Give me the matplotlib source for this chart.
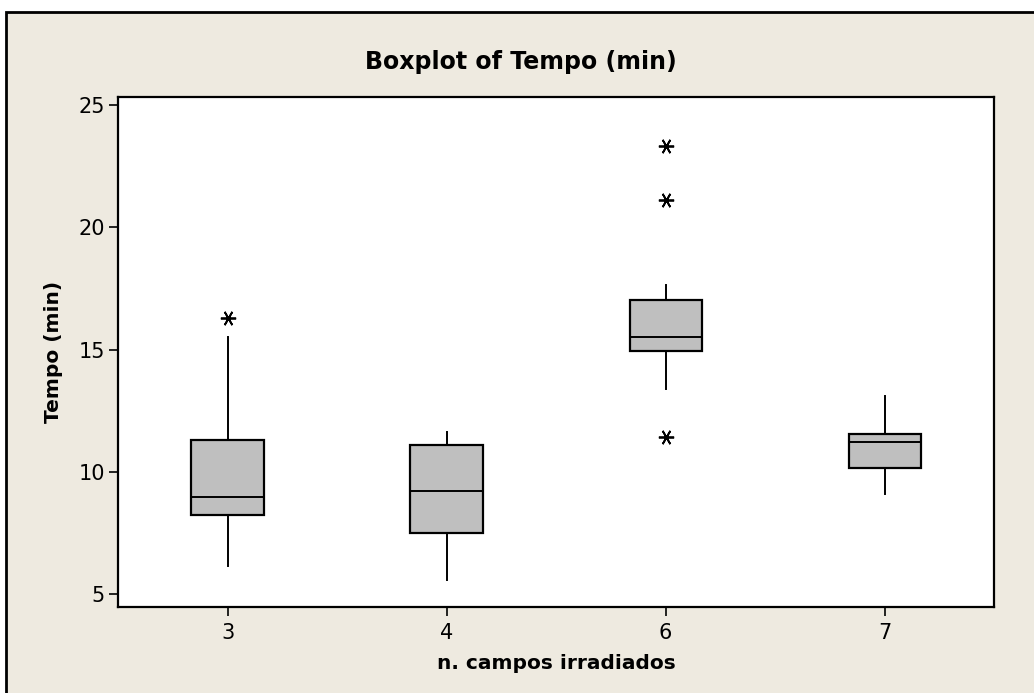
import numpy as np
import matplotlib.pyplot as plt
from matplotlib.patches import Rectangle

# group labels (n. campos irradiados)
groups = ['3', '4', '6', '7']

# box statistics
q1 = [8.25, 7.50, 14.96, 10.15]
med = [8.97, 9.20, 15.52, 11.21]
q3 = [11.31, 11.11, 17.02, 11.55]
whislo = [6.16, 5.57, 13.38, 9.10]
whishi = [15.52, 11.64, 17.62, 13.12]
outliers = [[16.28], [], [23.33, 21.12, 11.43], []]

stats = []
for i, g in enumerate(groups):
    stats.append(dict(label=g, q1=q1[i], med=med[i], q3=q3[i],
                      whislo=whislo[i], whishi=whishi[i], fliers=outliers[i]))

W, H = 1034, 693
bg = '#EEEAE0'
fig = plt.figure(figsize=(W / 100, H / 100), dpi=100, facecolor='white')
# outer beige panel, border visible on top/left only (rest is cropped off)
fig.patches.append(Rectangle((6 / W, -0.05), 1.1, 1 - 12.3 / H + 0.05,
                             transform=fig.transFigure, facecolor=bg,
                             edgecolor='black', linewidth=2, zorder=-1))

# axes box in pixels: x 118..994, y 97..607
ax = fig.add_axes([118 / W, 1 - 607.3 / H, (994.3 - 118) / W, (607.3 - 96.7) / H])
ax.bxp(stats, positions=range(len(groups)), widths=0.33, patch_artist=True,
       showcaps=False,
       boxprops=dict(facecolor='#BFBFBF', edgecolor='black', linewidth=1.6),
       medianprops=dict(color='black', linewidth=1.4),
       whiskerprops=dict(color='black', linewidth=1.4),
       flierprops=dict(marker=(6, 2, 90), markersize=11, markeredgecolor='black',
                       markeredgewidth=1.3, linestyle='none'))

ax.set_xlim(-0.5, 3.5)
ax.set_ylim(4.46, 25.34)
ax.set_yticks([5, 10, 15, 20, 25])
ax.set_xticks(range(len(groups)))
ax.set_xticklabels(groups)
ax.tick_params(axis='x', direction='out', length=6.5, width=1.2, labelsize=15, pad=5)
ax.tick_params(axis='y', direction='out', length=6.5, width=1.2, labelsize=15, pad=3)
for s in ax.spines.values():
    s.set_linewidth(1.6)

ax.set_xlabel('n. campos irradiados', fontsize=14.5, fontweight='bold', labelpad=8)
ax.set_ylabel('Tempo (min)', fontsize=14.5, fontweight='bold', labelpad=11)
fig.text(521 / W, 1 - 62 / H, 'Boxplot of Tempo (min)',
         ha='center', va='center', fontsize=17, fontweight='bold')

fig.savefig('out.png', dpi=100)
